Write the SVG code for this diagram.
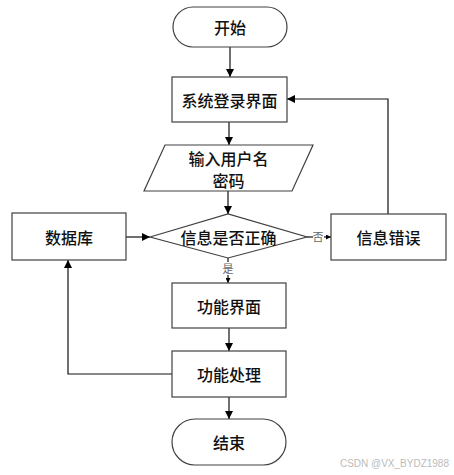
<svg xmlns="http://www.w3.org/2000/svg" width="454" height="475" viewBox="0 0 454 475">
<defs>
<marker id="arr" viewBox="0 0 10 10" refX="10" refY="5" markerWidth="8" markerHeight="8" markerUnits="userSpaceOnUse" orient="auto">
<path d="M0,0 L10,5 L0,10 Z" fill="#000"/>
</marker>
<marker id="arrs" viewBox="0 0 10 10" refX="10" refY="5" markerWidth="5" markerHeight="5" markerUnits="userSpaceOnUse" orient="auto">
<path d="M0,0 L10,5 L0,10 Z" fill="#000"/>
</marker>
</defs>
<style>
.shape{fill:#fff;stroke:#404040;stroke-width:1.2}
.t{font-family:"Noto Sans CJK SC","Noto Sans",sans-serif;font-size:16px;font-weight:500;fill:#111;text-anchor:middle;dominant-baseline:central}
.lbl{font-family:"Noto Sans CJK SC","Noto Sans",sans-serif;font-size:11px;fill:#666;text-anchor:middle;dominant-baseline:central}
.c{fill:none;stroke:#111;stroke-width:1.2}
.wm{font-family:"Liberation Sans",Arial,sans-serif;font-size:10px;fill:#bbb;text-anchor:end}
</style>
<rect width="454" height="475" fill="#fff"/>
<g id="connectors">
<line class="c" x1="230" y1="47" x2="230" y2="77" marker-end="url(#arr)"/>
<line class="c" x1="229" y1="122" x2="229" y2="145" marker-end="url(#arr)"/>
<line class="c" x1="228" y1="191" x2="228" y2="214" marker-end="url(#arr)"/>
<line class="c" x1="126" y1="237" x2="150" y2="237" marker-end="url(#arr)"/>
<line class="c" x1="307" y1="237" x2="313" y2="237"/>
<line class="c" x1="324" y1="237" x2="331" y2="237" marker-end="url(#arrs)"/>
<line class="c" x1="228" y1="258" x2="228" y2="262"/>
<line class="c" x1="228" y1="275" x2="228" y2="283" marker-end="url(#arrs)"/>
<line class="c" x1="229" y1="328" x2="229" y2="351" marker-end="url(#arr)"/>
<line class="c" x1="229" y1="397" x2="229" y2="419" marker-end="url(#arr)"/>
<polyline class="c" points="388,214 388,99 287,99" marker-end="url(#arr)"/>
<polyline class="c" points="172,374 68,374 68,260" marker-end="url(#arr)"/>
<text class="lbl" x="318" y="236">否</text>
<text class="lbl" x="228" y="268">是</text>
</g>
<g id="start">
<rect class="shape" x="173" y="7" width="114" height="40" rx="20" ry="20"/>
<text class="t" x="230" y="27">开始</text>
</g>
<g id="login">
<rect class="shape" x="172" y="77" width="115" height="45"/>
<text class="t" x="229.5" y="99.5">系统登录界面</text>
</g>
<g id="input">
<polygon class="shape" points="165,145 313,145 292,191 144,191"/>
<text class="t" x="228.5" y="158">输入用户名</text>
<text class="t" x="228.5" y="180">密码</text>
</g>
<g id="decision">
<polygon class="shape" points="150,237 228,214 307,237 228,258"/>
<text class="t" x="228.5" y="237">信息是否正确</text>
</g>
<g id="database">
<rect class="shape" x="12" y="213" width="114" height="47"/>
<text class="t" x="69" y="237">数据库</text>
</g>
<g id="error">
<rect class="shape" x="331" y="214" width="115" height="46"/>
<text class="t" x="388.5" y="237">信息错误</text>
</g>
<g id="func-ui">
<rect class="shape" x="172" y="283" width="114" height="45"/>
<text class="t" x="229" y="305.5">功能界面</text>
</g>
<g id="func-proc">
<rect class="shape" x="172" y="351" width="114" height="46"/>
<text class="t" x="229" y="374">功能处理</text>
</g>
<g id="end">
<rect class="shape" x="172" y="419" width="114" height="46" rx="23" ry="23"/>
<text class="t" x="229" y="442">结束</text>
</g>
<text class="wm" x="449" y="467">CSDN @VX_BYDZ1988</text>
</svg>
